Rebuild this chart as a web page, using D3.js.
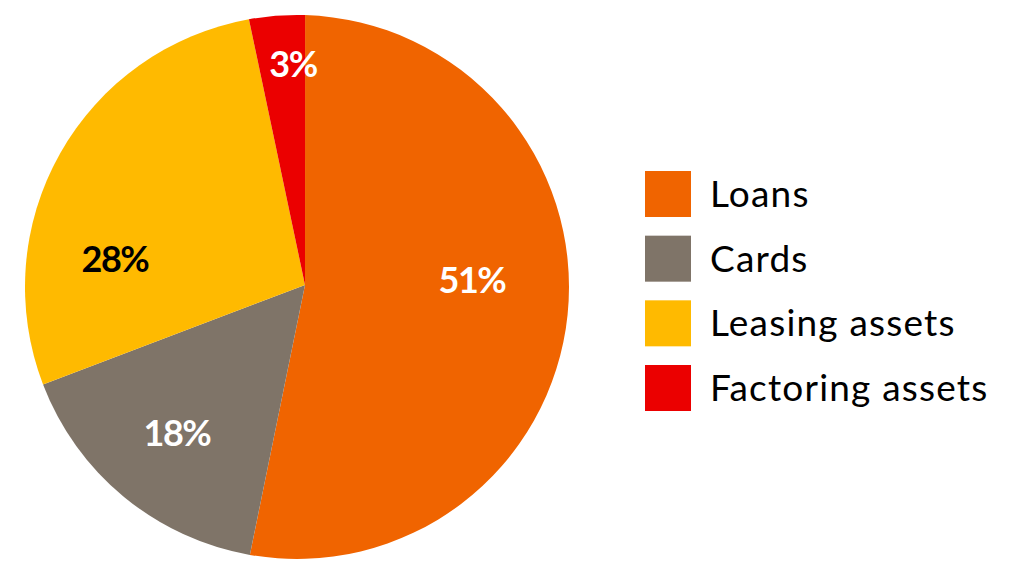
<!DOCTYPE html>
<html>
<head>
<meta charset="utf-8">
<script src="https://cdn.jsdelivr.net/npm/d3@7"></script>
<style>
  body { margin: 0; background: #fff; }
  #wrapper svg { display: block; }
</style>
</head>
<body>
<div id="wrapper"></div>
<script>
// 1. Data
const categories = ["Loans", "Cards", "Leasing assets", "Factoring assets"]
// slice sizes as drawn
const shares = [52.3, 16.4, 28.0, 3.3]
// printed labels
const shareLabels = ["51%", "18%", "28%", "3%"]
const colors = ["#F06400", "#7F7468", "#FFBA00", "#EB0000"]
const labelColors = ["#ffffff", "#ffffff", "#000000", "#ffffff"]

const dataset = categories.map((c, i) => ({ name: c, value: shares[i], label: shareLabels[i] }))

// 2. Dimensions
const dimensions = { width: 1024, height: 576 }
const pieCenter = { x: 297, y: 287 }
const apex = { x: 305, y: 285 }
const radius = 272

// 3. Canvas
const wrapper = d3.select("#wrapper")
    .append("svg")
    .attr("width", dimensions.width)
    .attr("height", dimensions.height)

const startAngle = 1.7 * Math.PI / 180
const pieGenerator = d3.pie()
    .value(d => d.value)
    .sort(null)
    .startAngle(startAngle)
    .endAngle(startAngle + 2 * Math.PI)

const slices = pieGenerator(dataset)

// wedges meet at the apex, outer arc on the circle
const slicePath = d => {
    const p = d3.path()
    p.moveTo(apex.x, apex.y)
    p.arc(pieCenter.x, pieCenter.y, radius, d.startAngle - Math.PI / 2, d.endAngle - Math.PI / 2)
    p.closePath()
    return p.toString()
}

// 4. Draw slices
wrapper.append("g")
    .selectAll("path")
    .data(slices)
    .join("path")
    .attr("d", slicePath)
    .attr("fill", (d, i) => colors[i])

// Data labels (offsets from the apex)
const labelOffsets = [[167, -5], [-128, 148], [-190, -26], [-12, -221]]
wrapper.append("g")
    .selectAll("text")
    .data(slices)
    .join("text")
    .attr("x", (d, i) => apex.x + labelOffsets[i][0])
    .attr("y", (d, i) => apex.y + labelOffsets[i][1])
    .attr("text-anchor", "middle")
    .attr("dy", "0.36em")
    .attr("fill", (d, i) => labelColors[i])
    .style("font-family", "Lato, sans-serif")
    .style("font-weight", "bold")
    .style("font-size", "36px")
    .style("letter-spacing", "-1.5px")
    .text(d => d.data.label)

// 5. Legend
const legendY = d3.scalePoint()
    .domain(categories)
    .range([171, 365])

const legend = wrapper.append("g")
const items = legend.selectAll("g")
    .data(categories)
    .join("g")
    .attr("transform", d => `translate(645, ${legendY(d)})`)

items.append("rect")
    .attr("width", 46)
    .attr("height", 46)
    .attr("fill", (d, i) => colors[i])

items.append("text")
    .attr("x", 65)
    .attr("y", 36)
    .attr("fill", "#000")
    .style("font-family", "Lato, sans-serif")
    .style("font-size", "37px")
    .style("letter-spacing", "1.2px")
    .text(d => d)
</script>
</body>
</html>
